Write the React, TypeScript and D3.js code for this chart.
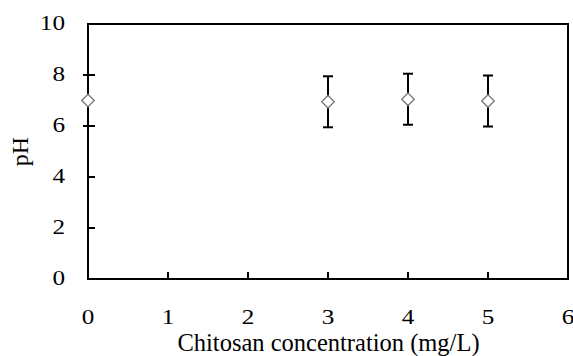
import React from "react";
import * as d3 from "d3";

// chitosan dose (mg/L) and measured pH, mean +/- error
const doses = [0, 3, 4, 5];
const phMeans = [7.0, 6.95, 7.05, 6.98];
const phErrors = [1.0, 1.0, 1.0, 1.0];

const xTicks = [0, 1, 2, 3, 4, 5, 6];
const yTicks = [0, 2, 4, 6, 8, 10];

const xTitle = "Chitosan concentration (mg/L)";
const yTitle = "pH";

const width = 573;
const height = 356;
const margin = { top: 24, left: 88, bottom: 77, right: 5 };
const font = "'Liberation Serif', 'Times New Roman', serif";

export default function App() {
  const iw = width - margin.left - margin.right;
  const ih = height - margin.top - margin.bottom;

  const x = d3.scaleLinear().domain([0, 6]).range([0, iw]);
  const y = d3.scaleLinear().domain([0, 10]).range([ih, 0]);

  const points = doses.map((d, i) => ({ dose: d, mean: phMeans[i], err: phErrors[i] }));
  const diamond = d3.symbol().type(d3.symbolDiamond2).size(100)();

  return (
    <svg width={width} height={height} style={{ display: "block", position: "absolute", left: 0, top: 0, fontFamily: font }}>
      <rect width={width} height={height} fill="#fff" />
      <g transform={`translate(${margin.left},${margin.top})`}>
        {/* frame */}
        <rect x={0} y={0} width={iw} height={ih} fill="none" stroke="#000" strokeWidth={2} />

        {/* y ticks */}
        {yTicks.map(t => (
          <g key={"y" + t} transform={`translate(0,${y(t)})`}>
            {t > 0 && t < 10 && <line x1={0} x2={7} stroke="#000" strokeWidth={2} />}
            <text transform="translate(-23,6) scale(1.2,1)" textAnchor="end" fontSize={21} fill="#000">{t}</text>
          </g>
        ))}

        {/* x ticks */}
        {xTicks.map(t => (
          <g key={"x" + t} transform={`translate(${x(t)},${ih})`}>
            {t > 0 && t < 6 && <line y1={0} y2={-7} stroke="#000" strokeWidth={2} />}
            <text transform="translate(0,45) scale(1.2,1)" textAnchor="middle" fontSize={21} fill="#000">{t}</text>
          </g>
        ))}

        {/* error bars + markers */}
        {points.map(p => (
          <g key={p.dose} transform={`translate(${x(p.dose)},0)`}>
            <line y1={y(p.mean - p.err)} y2={y(p.mean + p.err)} stroke="#000" strokeWidth={2} />
            <line x1={-5} x2={5} y1={y(p.mean + p.err)} y2={y(p.mean + p.err)} stroke="#000" strokeWidth={2} />
            <line x1={-5} x2={5} y1={y(p.mean - p.err)} y2={y(p.mean - p.err)} stroke="#000" strokeWidth={2} />
            <path d={diamond} transform={`translate(0,${y(p.mean)})`} fill="#fff" stroke="#777" strokeWidth={1.3} />
          </g>
        ))}

        <text x={iw / 2 + 0.5} y={ih + 72} textAnchor="middle" fontSize={24.5} fill="#000">{xTitle}</text>
        <text transform={`translate(${-60},${ih / 2}) rotate(-90)`} textAnchor="middle" fontSize={24} fill="#000">{yTitle}</text>
      </g>
    </svg>
  );
}
